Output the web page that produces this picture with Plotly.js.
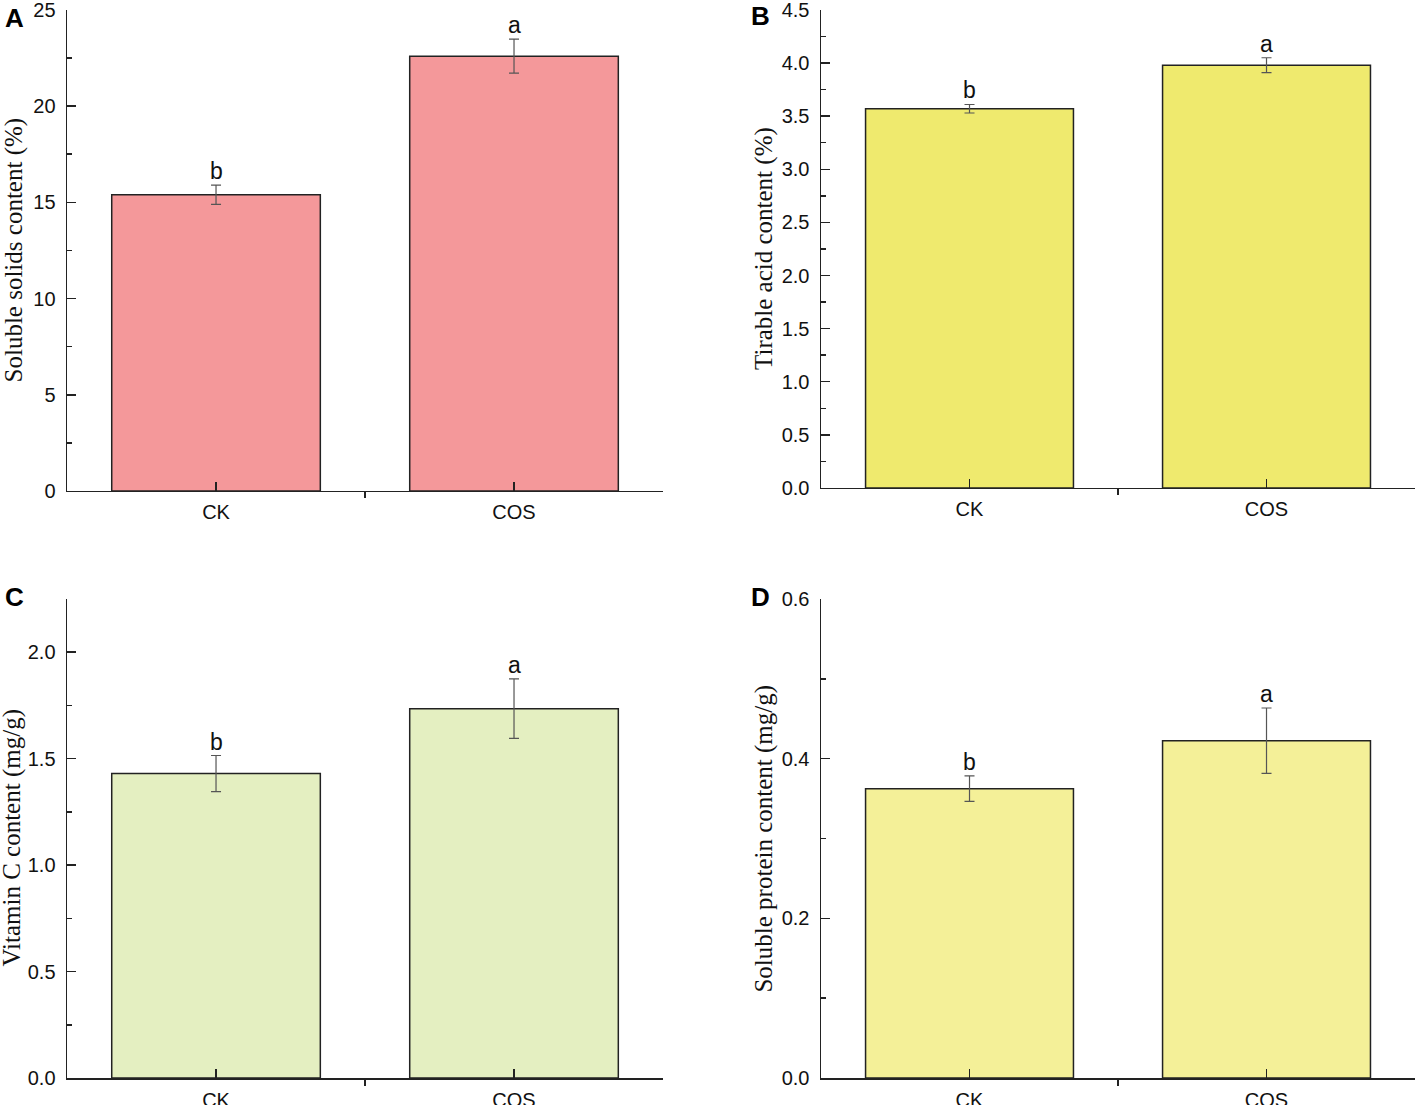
<!DOCTYPE html>
<html>
<head>
<meta charset="utf-8">
<script src="https://cdn.plot.ly/plotly-3.0.1.min.js"></script>
<style>
  html, body { margin: 0; padding: 0; background: #fff; }
  #chart { width: 1417px; height: 1105px; }
</style>
</head>
<body>
<div id="chart"></div>
<script>
const categories = ['CK', 'COS'];

// A - soluble solids (%)
const solubleSolids = [15.4, 22.6];
const solubleSolidsErr = [0.5, 0.88];
const solubleSolidsLetters = ['b', 'a'];

// B - titrable acid (%)
const tirableAcid = [3.57, 3.98];
const tirableAcidErr = [0.04, 0.07];
const tirableAcidLetters = ['b', 'a'];

// C - vitamin C (mg/g)
const vitaminC = [1.43, 1.735];
const vitaminCErr = [0.085, 0.14];
const vitaminCLetters = ['b', 'a'];

// D - soluble protein (mg/g)
const solubleProtein = [0.3625, 0.4225];
const solubleProteinErr = [0.016, 0.041];
const solubleProteinLetters = ['b', 'a'];

const positions = categories.map((c, i) => i);

const panels = [
  { key: '', label: 'A', y: solubleSolids, err: solubleSolidsErr, letters: solubleSolidsLetters,
    color: '#F4989A', title: 'Soluble solids content (%)', range: [0, 25], dtick: 5, minor: 2.5, fmt: '',
    dx: [0.0473, 0.4679], dy: [0.5557, 0.991], titleX: 14, labelX: 3, labelY: 18 },
  { key: '2', label: 'B', y: tirableAcid, err: tirableAcidErr, letters: tirableAcidLetters,
    color: '#EFEA6E', title: 'Tirable acid content (%)', range: [0, 4.5], dtick: 0.5, minor: 0.25, fmt: '.1f',
    dx: [0.5794, 0.9986], dy: [0.5584, 0.991], titleX: 764, labelX: 749, labelY: 16 },
  { key: '3', label: 'C', y: vitaminC, err: vitaminCErr, letters: vitaminCLetters,
    color: '#E4EFC1', title: 'Vitamin C content (mg/g)', range: [0, 2.25], dtick: 0.5, minor: 0.25, fmt: '.1f',
    dx: [0.0473, 0.4679], dy: [0.0244, 0.4579], titleX: 12, labelX: 3, labelY: 597 },
  { key: '4', label: 'D', y: solubleProtein, err: solubleProteinErr, letters: solubleProteinLetters,
    color: '#F4F098', title: 'Soluble protein content (mg/g)', range: [0, 0.6], dtick: 0.2, minor: 0.1, fmt: '.1f',
    dx: [0.5794, 0.9986], dy: [0.0244, 0.4579], titleX: 764, labelX: 749, labelY: 597 },
];

const tickFont = { family: 'Liberation Sans, Arial, sans-serif', size: 20, color: '#111' };

let series = [];
let annotations = [];
let layout = {
  width: 1417,
  height: 1105,
  margin: { l: 0, r: 0, t: 0, b: 0 },
  paper_bgcolor: '#fff',
  plot_bgcolor: '#fff',
  showlegend: false,
  font: tickFont,
};

panels.forEach((p) => {
  series.push({
    type: 'bar',
    x: positions,
    y: p.y,
    width: 0.7,
    xaxis: 'x' + p.key,
    yaxis: 'y' + p.key,
    marker: { color: p.color, line: { color: '#222', width: 1.5 } },
    error_y: { type: 'data', array: p.err, visible: true, color: '#555', thickness: 1.2, width: 5 },
    hoverinfo: 'skip',
  });

  layout['xaxis' + p.key] = {
    domain: p.dx,
    anchor: 'y' + p.key,
    range: [-0.5, 1.5],
    tickmode: 'array',
    tickvals: positions,
    ticktext: categories,
    ticks: 'inside',
    ticklen: 9,
    tickwidth: 1.5,
    tickcolor: '#222',
    tickfont: tickFont,
    ticklabelstandoff: 3,
    minor: { tickmode: 'array', tickvals: [-0.5, 0.5, 1.5], ticks: 'outside', ticklen: 6, tickwidth: 1.5, tickcolor: '#222' },
    showline: true,
    linecolor: '#222',
    linewidth: 1.5,
    showgrid: false,
    zeroline: false,
    fixedrange: true,
  };

  layout['yaxis' + p.key] = {
    domain: p.dy,
    anchor: 'x' + p.key,
    range: p.range,
    tick0: 0,
    dtick: p.dtick,
    tickformat: p.fmt,
    ticks: 'inside',
    ticklen: 9,
    tickwidth: 1.5,
    tickcolor: '#222',
    tickfont: tickFont,
    ticklabelstandoff: 6,
    ticklabeloverflow: 'allow',
    minor: { dtick: p.minor, ticks: 'inside', ticklen: 5, tickwidth: 1.5, tickcolor: '#222' },
    showline: true,
    linecolor: '#222',
    linewidth: 1.5,
    showgrid: false,
    zeroline: false,
    fixedrange: true,
  };

  // significance letters above the error bars
  positions.forEach((x, i) => {
    annotations.push({
      xref: 'x' + p.key,
      yref: 'y' + p.key,
      x: x,
      y: p.y[i] + p.err[i],
      text: p.letters[i],
      showarrow: false,
      yanchor: 'bottom',
      yshift: -1,
      font: { family: 'Liberation Sans, Arial, sans-serif', size: 23, color: '#111' },
    });
  });

  // y title
  annotations.push({
    xref: 'paper',
    yref: 'paper',
    x: p.titleX / 1417,
    y: (p.dy[0] + p.dy[1]) / 2,
    xanchor: 'center',
    yanchor: 'middle',
    text: p.title,
    textangle: -90,
    showarrow: false,
    font: { family: 'Liberation Serif, Times New Roman, serif', size: 25, color: '#111' },
  });

  // panel letter
  annotations.push({
    xref: 'paper',
    yref: 'paper',
    x: p.labelX / 1417,
    y: 1 - p.labelY / 1105,
    xanchor: 'left',
    yanchor: 'middle',
    text: '<b>' + p.label + '</b>',
    showarrow: false,
    font: { family: 'Liberation Sans, Arial, sans-serif', size: 26, color: '#000' },
  });
});

layout.annotations = annotations;

let config = { responsive: false, displayModeBar: false, staticPlot: true };
Plotly.newPlot('chart', series, layout, config);
</script>
</body>
</html>
